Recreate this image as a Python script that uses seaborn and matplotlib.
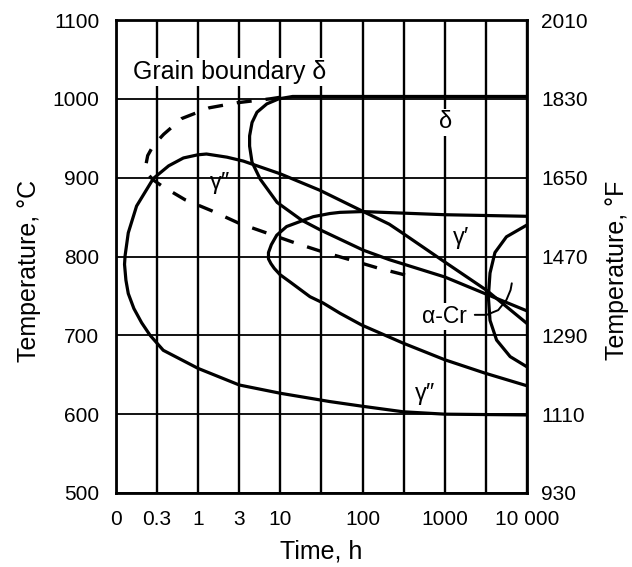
import matplotlib.pyplot as plt
import seaborn as sns

# axis ticks
time_ticks = [0.1, 0.316, 1, 3.16, 10, 31.6, 100, 316, 1000, 3162, 10000]
time_labels = ["0", "0.3", "1", "3", "10", "", "100", "", "1000", "", "10 000"]
temp_c_ticks = [500, 600, 700, 800, 900, 1000, 1100]
temp_f_labels = ["930", "1110", "1290", "1470", "1650", "1830", "2010"]

# curves (time in h, temperature in C)
delta_t = [10000, 1000, 100, 20, 14.1, 9.55, 6.84, 5.19, 4.52, 4.22, 4.22, 4.52,
           5.69, 9.12, 18.2, 30.2, 102, 211, 1000, 3236, 10000]
delta_T = [1003, 1003, 1003, 1003, 1003, 1000, 993.6, 983, 970, 953, 940, 919.5,
           898, 868.6, 846, 834, 808, 796, 774, 752, 731]

gpp_t = [10000, 3236, 1000, 313, 211, 102, 30.2, 9.89, 3.55, 2.24, 1.26, 0.989,
         0.661, 0.437, 0.285, 0.178, 0.141, 0.129, 0.127, 0.132, 0.141, 0.165,
         0.205, 0.260, 0.376, 1.0, 3.16, 10, 39.8, 100, 313, 1000, 10000]
gpp_T = [715, 757, 793, 829, 841, 857, 884, 905, 921, 926, 930, 929,
         925, 915, 899, 864, 830, 801, 790, 770, 753, 734,
         716, 700, 681, 658, 637, 626.5, 616, 610, 603, 600, 599]

gp_t = [10000, 1000, 316, 100, 53.1, 39.8, 25.1, 19.1, 11.9, 9.02, 7.76, 7.16,
        7.16, 7.67, 8.41, 9.89, 13.0, 22.9, 33.1, 53.1, 97.7, 313, 1000, 3090,
        10000]
gp_T = [851, 853, 855, 857, 856, 854.5, 850.5, 846, 838, 827, 815, 805,
        797, 791, 785, 777, 768, 749, 741, 728, 713, 690, 669, 652,
        636]

gb_delta_t = [10, 7.5, 2.95, 1.36, 0.631, 0.38, 0.285, 0.243, 0.226, 0.251,
              0.285, 0.367, 0.692, 1.46, 3.16, 6.53, 15.3, 32.4, 64.6, 158, 376]
gb_delta_T = [1002, 1000, 995, 988.6, 975, 955, 941, 928, 911, 903,
              897, 889, 872, 858, 842, 830.5, 817, 806, 797, 785, 775]

acr_t = [10000, 5623, 4074, 3548, 3388, 3548, 4266, 6237, 10000]
acr_T = [840, 825, 805, 779, 749, 719, 694, 673, 660]

leader_t = [2317, 3236, 4467, 5623, 6310, 6531]
leader_T = [726, 726, 732, 745, 757.5, 766]

sns.set_theme(style="white")
plt.rcParams["font.family"] = ["Liberation Sans", "DejaVu Sans"]
plt.rcParams["text.color"] = "black"
plt.rcParams["axes.labelcolor"] = "black"
plt.rcParams["xtick.color"] = "black"
plt.rcParams["ytick.color"] = "black"

fig = plt.figure(figsize=(6.32, 5.67), dpi=100)
ax = fig.add_axes([116 / 632, 74 / 567, 411 / 632, 473 / 567])

line_kw = dict(ax=ax, sort=False, estimator=None, color="black", legend=False)
sns.lineplot(x=delta_t, y=delta_T, lw=2.3, **line_kw)
sns.lineplot(x=gpp_t, y=gpp_T, lw=2.3, **line_kw)
sns.lineplot(x=gp_t, y=gp_T, lw=2.3, **line_kw)
sns.lineplot(x=acr_t, y=acr_T, lw=2.3, **line_kw)
sns.lineplot(x=leader_t, y=leader_T, lw=1.4, **line_kw)
sns.lineplot(x=gb_delta_t, y=gb_delta_T, lw=2.4,
             linestyle=(0, (4.5, 4.2)), **line_kw)

ax.set_xscale("log")
ax.set_xlim(0.1, 10000)
ax.set_ylim(500, 1100)
ax.set_xticks(time_ticks)
ax.set_xticklabels(time_labels)
ax.xaxis.set_minor_locator(plt.NullLocator())
ax.set_yticks(temp_c_ticks)
ax.set_yticklabels([str(v) for v in temp_c_ticks])

# grid in black, like the printed chart
ax.set_axisbelow(True)
ax.grid(True, axis="x", color="black", lw=1.7)
ax.grid(True, axis="y", color="black", lw=1.3)
for sp in ax.spines.values():
    sp.set_color("black")
    sp.set_linewidth(2)

ax.tick_params(axis="x", length=0, pad=12, labelsize=15)
ax.tick_params(axis="y", length=0, pad=12, labelsize=15)

ax2 = ax.twinx()
ax2.set_ylim(500, 1100)
ax2.set_yticks(temp_c_ticks)
ax2.set_yticklabels(temp_f_labels)
ax2.tick_params(axis="y", length=0, pad=10, labelsize=15)
for sp in ax2.spines.values():
    sp.set_visible(False)

ax.set_xlabel("Time, h", fontsize=18)
ax.xaxis.set_label_coords(0.5, -0.098)
ax.set_ylabel("Temperature, \u00b0C", fontsize=18)
ax.yaxis.set_label_coords(-0.183, 0.47)
ax2.set_ylabel("Temperature, \u00b0F", fontsize=18)
ax2.yaxis.set_label_coords(1.19, 0.47)

box = dict(facecolor="white", edgecolor="none", pad=1.5)
ax.text(0.160, 1034, "Grain boundary \u03b4", fontsize=18, ha="left",
        va="center", bbox=box, zorder=5)
ax.text(1035, 970, "\u03b4", fontsize=17, ha="center", va="center", bbox=box, zorder=5)
ax.text(1.84, 893, "\u03b3\u2033", fontsize=17, ha="center", va="center", zorder=5)
ax.text(1585, 824, "\u03b3\u2032", fontsize=17, ha="center", va="center", zorder=5)
ax.text(575, 625, "\u03b3\u2033", fontsize=17, ha="center", va="center", zorder=5)
ax.text(977, 724, "\u03b1-Cr", fontsize=16.5, ha="center", va="center",
        bbox=box, zorder=5)

fig.savefig("out.png", dpi=100)
